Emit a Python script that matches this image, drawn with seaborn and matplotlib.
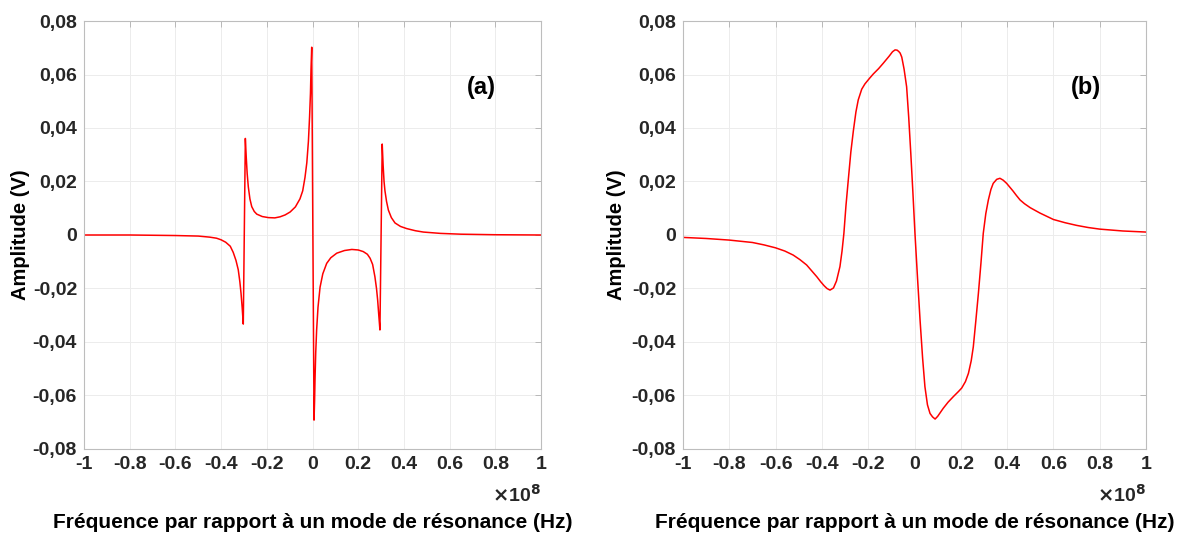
import numpy as np
import pandas as pd
import seaborn as sns
import matplotlib.pyplot as plt

# panel (a): frequency offset (x1e8 Hz) and amplitude (V)
freq_a = [-1.0, -0.8, -0.6, -0.5, -0.45, -0.42, -0.40, -0.38, -0.36, -0.347, -0.335,
          -0.325, -0.318, -0.313, -0.308, -0.303, -0.294, -0.290, -0.286, -0.281, -0.274,
          -0.266, -0.255, -0.244, -0.22, -0.193, -0.165, -0.142, -0.12, -0.098, -0.075,
          -0.055, -0.043, -0.033, -0.025, -0.018, -0.013, -0.009, -0.0066, -0.0035,
          0.0066, 0.009, 0.0109, 0.014, 0.018, 0.024, 0.033, 0.045, 0.062, 0.08, 0.106,
          0.14, 0.172, 0.20, 0.222, 0.24, 0.252, 0.263, 0.273, 0.28, 0.285, 0.29, 0.295,
          0.305, 0.309, 0.313, 0.317, 0.324, 0.332, 0.345, 0.361, 0.385, 0.412, 0.45,
          0.485, 0.56, 0.65, 0.8, 1.0]
amp_a = [0.0, 0.0, -0.0002, -0.0004, -0.0008, -0.0012, -0.0018, -0.0027, -0.0042, -0.0065,
         -0.0095, -0.013, -0.0175, -0.0217, -0.027, -0.0333, 0.0361, 0.029, 0.023, 0.018,
         0.0135, 0.0106, 0.0088, 0.0078, 0.0069, 0.0065, 0.0064, 0.0068, 0.0075, 0.0086,
         0.0105, 0.0135, 0.0165, 0.0215, 0.027, 0.035, 0.044, 0.053, 0.062, 0.0702,
         -0.0692, -0.062, -0.054, -0.044, -0.0355, -0.027, -0.0195, -0.0145, -0.0106,
         -0.0085, -0.0068, -0.0058, -0.0054, -0.0056, -0.0062, -0.0072, -0.0087, -0.011,
         -0.0156, -0.02, -0.0243, -0.03, -0.0355, 0.034, 0.026, 0.02, 0.0165, 0.0125,
         0.0093, 0.0065, 0.0045, 0.0032, 0.0024, 0.0016, 0.0011, 0.0006, 0.0003, 0.0001, 0.0]

# panel (b)
freq_b = [-1.0, -0.9, -0.8, -0.7, -0.65, -0.6, -0.56, -0.524, -0.495, -0.466, -0.44,
          -0.422, -0.405, -0.39, -0.378, -0.365, -0.35, -0.337, -0.322, -0.313, -0.305,
          -0.296, -0.286, -0.275, -0.264, -0.253, -0.243, -0.228, -0.214, -0.195, -0.178,
          -0.155, -0.135, -0.11, -0.095, -0.084, -0.075, -0.068, -0.062, -0.055, -0.045,
          -0.034, -0.025, -0.016, -0.007, 0.002, 0.013, 0.024, 0.035, 0.045, 0.056, 0.067,
          0.078, 0.089, 0.10, 0.124, 0.145, 0.168, 0.19, 0.204, 0.22, 0.233, 0.245, 0.254,
          0.265, 0.276, 0.287, 0.297, 0.308, 0.319, 0.33, 0.34, 0.355, 0.369, 0.383,
          0.398, 0.425, 0.44, 0.456, 0.475, 0.5, 0.542, 0.6, 0.65, 0.7, 0.75, 0.8, 0.9, 1.0]
amp_b = [-0.0009, -0.0013, -0.0019, -0.0028, -0.0037, -0.0048, -0.006, -0.0075, -0.0092,
         -0.0112, -0.0138, -0.0156, -0.0175, -0.019, -0.02, -0.0206, -0.0198, -0.0172,
         -0.0118, -0.006, 0.0006, 0.011, 0.0206, 0.031, 0.039, 0.046, 0.0505, 0.0545,
         0.0565, 0.0585, 0.0602, 0.0622, 0.0642, 0.0668, 0.0685, 0.0692, 0.0691, 0.0686,
         0.068, 0.0665, 0.062, 0.0554, 0.044, 0.0305, 0.016, 0.0006, -0.016, -0.0318,
         -0.046, -0.0567, -0.0635, -0.0667, -0.068, -0.0688, -0.0678, -0.0648, -0.0625,
         -0.0604, -0.0585, -0.0572, -0.0548, -0.0517, -0.047, -0.0418, -0.032, -0.0218,
         -0.0105, 0.0006, 0.008, 0.0131, 0.017, 0.0193, 0.0208, 0.0212, 0.0205, 0.0193,
         0.0165, 0.0148, 0.0131, 0.0117, 0.0102, 0.0082, 0.0058, 0.0046, 0.0036, 0.0028,
         0.0022, 0.0015, 0.0011]

x_ticks = [-1, -0.8, -0.6, -0.4, -0.2, 0, 0.2, 0.4, 0.6, 0.8, 1]
y_ticks = [-0.08, -0.06, -0.04, -0.02, 0, 0.02, 0.04, 0.06, 0.08]
panel_labels = ['(a)', '(b)']
xlabel = 'Fréquence par rapport à un mode de résonance (Hz)'
ylabel = 'Amplitude (V)'

sns.set_style('white')
plt.rcParams['font.family'] = ['Liberation Sans', 'DejaVu Sans']
plt.rcParams['font.weight'] = 'bold'

fig = plt.figure(figsize=(11.8, 5.33), dpi=100)
ax_a = fig.add_axes([0.0712, 0.1576, 0.3873, 0.803])
ax_b = fig.add_axes([0.5788, 0.1576, 0.3924, 0.803])

df_a = pd.DataFrame({'f': freq_a, 'amp': amp_a})
df_b = pd.DataFrame({'f': freq_b, 'amp': amp_b})

txt = '#262626'
for ax, df, lab, ylx in [(ax_a, df_a, panel_labels[0], -0.118),
                         (ax_b, df_b, panel_labels[1], -0.123)]:
    sns.lineplot(data=df, x='f', y='amp', ax=ax, color='#ff0000', linewidth=1.1,
                 estimator=None, sort=False)
    ax.set_xlim(-1, 1)
    ax.set_ylim(-0.08, 0.08)
    ax.set_xticks(x_ticks)
    ax.set_xticklabels([f'{t:g}' for t in x_ticks])
    ax.set_yticks(y_ticks)
    ax.set_yticklabels(['0' if t == 0 else f'{t:.2f}'.replace('.', ',') for t in y_ticks])
    ax.tick_params(direction='in', length=4, width=0.6, color='#b0b0b0',
                   top=True, right=True, labelsize=14, labelcolor=txt, pad=5)
    for t in ax.get_xticklabels() + ax.get_yticklabels():
        t.set_fontweight('bold')
    ax.grid(True, color='#ececec', linewidth=0.7)
    for s in ax.spines.values():
        s.set_color('#bdbdbd')
        s.set_linewidth(0.8)
    ax.set_xlabel(xlabel, fontsize=15, fontweight='bold', color='black', va='center')
    ax.xaxis.set_label_coords(0.5, -0.171)
    ax.set_ylabel(ylabel, fontsize=14.5, fontweight='bold', color='black')
    ax.yaxis.set_label_coords(ylx, 0.5)
    ax.text(1.0, -0.108, r'$\times$10$^{\mathbf{8}}$', transform=ax.transAxes,
            ha='right', va='center', fontsize=14, fontweight='bold', color=txt)
    ax.text(0.74, 0.055, lab, ha='center', va='center', fontsize=17,
            fontweight='bold', color='black')

fig.savefig('out.png', dpi=100)
plt.close(fig)
